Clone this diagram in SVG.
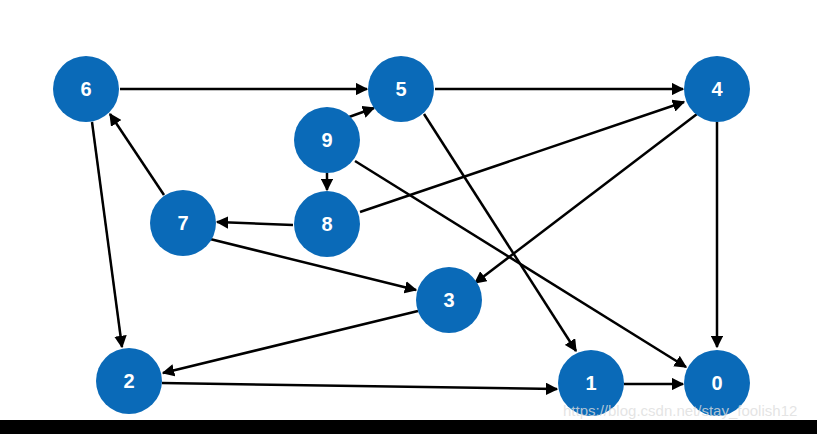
<svg xmlns="http://www.w3.org/2000/svg" width="817" height="434" viewBox="0 0 817 434">
<style>
.n circle{fill:#0a6ab8;}
.n text{fill:#fff;font-family:"Liberation Sans",Arial,sans-serif;font-weight:bold;font-size:20px;text-anchor:middle;dominant-baseline:central;}
.e line{stroke:#000;stroke-width:2.5;marker-end:url(#a);}
</style>
<defs>
<marker id="a" viewBox="0 0 10 10" refX="9" refY="5" markerWidth="5" markerHeight="5" orient="auto" markerUnits="strokeWidth">
<path d="M0,0 L10,5 L0,10 Z" fill="#000"/>
</marker>
</defs>
<rect width="817" height="434" fill="#fff"/>
<g class="e">
<line x1="120" y1="89" x2="367" y2="89"/>
<line x1="435" y1="89" x2="683" y2="89"/>
<line x1="349" y1="117" x2="374" y2="108"/>
<line x1="327" y1="173" x2="327" y2="190"/>
<line x1="355" y1="161" x2="686" y2="367"/>
<line x1="293" y1="225" x2="217" y2="222"/>
<line x1="360" y1="212" x2="684" y2="102"/>
<line x1="164" y1="195" x2="110" y2="114"/>
<line x1="210" y1="239" x2="416" y2="290"/>
<line x1="92" y1="122" x2="122" y2="347"/>
<line x1="424" y1="114" x2="576" y2="351"/>
<line x1="697" y1="114" x2="475" y2="283"/>
<line x1="717" y1="122" x2="717" y2="347"/>
<line x1="418" y1="311" x2="163" y2="373"/>
<line x1="162" y1="383" x2="557" y2="389"/>
<line x1="624" y1="384" x2="683" y2="384"/>
</g>
<g id="n6" class="n"><circle cx="86" cy="89" r="33"/><text x="86" y="89">6</text></g>
<g id="n5" class="n"><circle cx="401" cy="89" r="33"/><text x="401" y="89">5</text></g>
<g id="n4" class="n"><circle cx="717" cy="89" r="33"/><text x="717" y="89">4</text></g>
<g id="n9" class="n"><circle cx="327" cy="140" r="33"/><text x="327" y="140">9</text></g>
<g id="n7" class="n"><circle cx="183" cy="223" r="33"/><text x="183" y="223">7</text></g>
<g id="n8" class="n"><circle cx="327" cy="224" r="33"/><text x="327" y="224">8</text></g>
<g id="n3" class="n"><circle cx="449" cy="300" r="33"/><text x="449" y="300">3</text></g>
<g id="n2" class="n"><circle cx="129" cy="381" r="33"/><text x="129" y="381">2</text></g>
<g id="n1" class="n"><circle cx="591" cy="383" r="33"/><text x="591" y="383">1</text></g>
<g id="n0" class="n"><circle cx="717" cy="383" r="33"/><text x="717" y="383">0</text></g>
<rect x="0" y="420" width="817" height="14" fill="#000"/>
<text x="563" y="416" font-family="'Liberation Sans',Arial,sans-serif" font-size="15" fill="#ddd" fill-opacity="0.8">https://blog.csdn.net/stay_foolish12</text>
</svg>
